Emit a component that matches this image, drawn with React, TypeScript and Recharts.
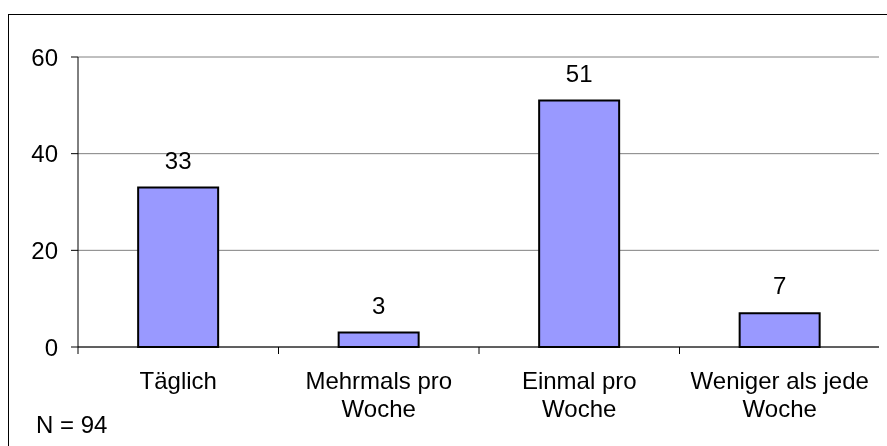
import React from 'react';
import { BarChart, Bar, XAxis, YAxis, CartesianGrid, LabelList } from 'recharts';

const categories = ['Täglich', 'Mehrmals pro Woche', 'Einmal pro Woche', 'Weniger als jede Woche'];
const counts = [33, 3, 51, 7];
const yTicks = [0, 20, 40, 60];
const sampleNote = 'N = 94';

const data = categories.map((name, i) => ({ name, value: counts[i] }));

const FONT = 'Arial, "Liberation Sans", sans-serif';
const FS = 24;

let ctx: CanvasRenderingContext2D | null = null;
const measure = (s: string) => {
  if (!ctx) ctx = document.createElement('canvas').getContext('2d');
  if (!ctx) return s.length * FS * 0.55;
  ctx.font = `${FS}px ${FONT}`;
  return ctx.measureText(s).width;
};

// greedy word wrap
const wrap = (label: string, maxWidth: number) => {
  const lines: string[] = [];
  let cur = '';
  for (const w of label.split(' ')) {
    const next = cur ? `${cur} ${w}` : w;
    if (cur && measure(next) > maxWidth) {
      lines.push(cur);
      cur = w;
    } else {
      cur = next;
    }
  }
  if (cur) lines.push(cur);
  return lines;
};

// category label plus tick marks on the band edges (Excel style)
const CategoryTick = (props: any) => {
  const { x, y, payload, index, width, visibleTicksCount } = props;
  const half = payload?.offset ?? width / categories.length / 2;
  const count = visibleTicksCount ?? categories.length;
  const lines = wrap(String(payload.value), 190);
  return (
    <g>
      <line x1={x - half} y1={y} x2={x - half} y2={y + 7} stroke="#000" strokeWidth={1} />
      {index === count - 1 && (
        <line x1={x + half} y1={y} x2={x + half} y2={y + 7} stroke="#808080" strokeWidth={1} />
      )}
      <text textAnchor="middle" fontSize={FS} fontFamily={FONT} fill="#000">
        {lines.map((ln, i) => (
          <tspan key={i} x={x} y={y + 41.5 + i * 28}>
            {ln}
          </tspan>
        ))}
      </text>
    </g>
  );
};

export default function App() {
  return (
    <div style={{ position: 'relative', width: 879, height: 430, background: '#fff' }}>
      <div
        style={{
          position: 'fixed',
          left: 8,
          top: 14,
          width: 1000,
          height: 600,
          borderTop: '1px solid #000',
          borderLeft: '1px solid #000',
          pointerEvents: 'none',
        }}
      />
      <BarChart
        width={879}
        height={430}
        data={data}
        margin={{ top: 49, right: 7, left: 0, bottom: 11 }}
        barCategoryGap="30%"
      >
        <CartesianGrid vertical={false} stroke="#808080" strokeWidth={1} />
        <XAxis
          dataKey="name"
          height={80}
          axisLine={{ stroke: '#000', strokeWidth: 1 }}
          tickLine={false}
          tickSize={0}
          tickMargin={0}
          interval={0}
          tick={<CategoryTick />}
        />
        <YAxis
          width={70}
          domain={[0, 60]}
          ticks={yTicks}
          axisLine={{ stroke: '#000', strokeWidth: 1 }}
          tickLine={{ stroke: '#000', strokeWidth: 1 }}
          tickSize={7}
          tickMargin={13}
          tick={{ fontSize: FS, fontFamily: FONT, fill: '#000' }}
        />
        <YAxis
          yAxisId="right"
          orientation="right"
          width={0}
          domain={[0, 60]}
          tick={false}
          tickLine={false}
          axisLine={{ stroke: '#808080', strokeWidth: 1 }}
        />
        <Bar dataKey="value" fill="#9999FF" stroke="#000" strokeWidth={2} isAnimationActive={false}>
          <LabelList
            dataKey="value"
            position="top"
            offset={19}
            style={{ fontSize: FS, fontFamily: FONT, fill: '#000' }}
          />
        </Bar>
      </BarChart>
      <div
        style={{
          position: 'absolute',
          left: 28,
          top: 405,
          fontSize: FS,
          lineHeight: `${FS}px`,
          fontFamily: FONT,
          color: '#000',
          whiteSpace: 'nowrap',
        }}
      >
        {sampleNote}
      </div>
    </div>
  );
}
